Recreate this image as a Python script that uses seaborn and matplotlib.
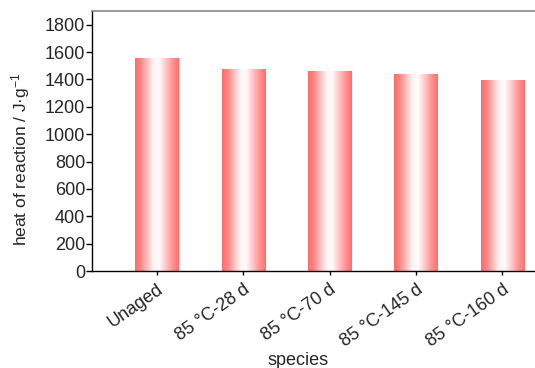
import numpy as np
import pandas as pd
import matplotlib
matplotlib.use("Agg")
import matplotlib.pyplot as plt
from matplotlib.colors import LinearSegmentedColormap
import seaborn as sns

categories = ["Unaged", "85 °C-28 d", "85 °C-70 d", "85 °C-145 d", "85 °C-160 d"]
heat = [1555, 1475, 1460, 1440, 1395]
y_ticks = [0, 200, 400, 600, 800, 1000, 1200, 1400, 1600, 1800]

sns.set_style("white")
plt.rcParams["font.family"] = ["Liberation Sans", "DejaVu Sans"]
plt.rcParams["mathtext.fontset"] = "custom"
plt.rcParams["mathtext.rm"] = "Liberation Sans"
plt.rcParams["mathtext.it"] = "Liberation Sans:italic"

df = pd.DataFrame({"species": categories, "heat": heat})

fig = plt.figure(figsize=(5.35, 3.68), dpi=100)
ax = fig.add_axes([92 / 535, 97 / 368, (535 - 92) / 535, 260 / 368])

sns.barplot(data=df, x="species", y="heat", width=0.5, color="#ff7070", ax=ax)

cmap = LinearSegmentedColormap.from_list(
    "grad",
    [(0.0, "#ff6c6c"), (0.12, "#ff8282"), (0.42, "#fff4f4"), (0.55, "#fffafa"),
     (0.85, "#ff9494"), (1.0, "#ff6e6e")])
grad = np.linspace(0, 1, 256).reshape(1, -1)
for p in ax.patches:
    x0, y0 = p.get_x(), p.get_y()
    w, h = p.get_width(), p.get_height()
    im = ax.imshow(grad, cmap=cmap, aspect="auto", extent=(x0, x0 + w, y0, y0 + h),
                   zorder=p.get_zorder(), interpolation="bilinear")
    p.set_facecolor("none")
    p.set_edgecolor("#ffd0d0")
    p.set_linewidth(0.8)
    im.set_clip_path(p)

ax.set_xlim(-0.753, 4.38)
ax.set_ylim(0, 1900)
ax.set_yticks(y_ticks)
ax.set_yticklabels([str(v) for v in y_ticks], fontsize=13)
ax.set_xticks(range(len(categories)))
ax.set_xticklabels(categories, fontsize=13, rotation=35, ha="right", rotation_mode="anchor")

for s in ["left", "bottom"]:
    ax.spines[s].set_color("black")
    ax.spines[s].set_linewidth(1.0)
ax.spines["top"].set_color("#888888")
ax.spines["top"].set_linewidth(1.2)
ax.spines["right"].set_visible(False)

ax.tick_params(axis="y", direction="out", length=4, width=1, color="black", pad=1, left=True)
ax.tick_params(axis="x", direction="out", length=3, width=1, color="black", pad=4, bottom=True)

ax.set_ylabel("heat of reaction / J·g$^{-1}$", fontsize=12.5)
ax.set_xlabel("species", fontsize=13)
ax.xaxis.set_label_coords((298 - 92) / 443, -0.31)
ax.yaxis.set_label_coords(-0.135, 0.43)

fig.savefig("out.png", dpi=100)
